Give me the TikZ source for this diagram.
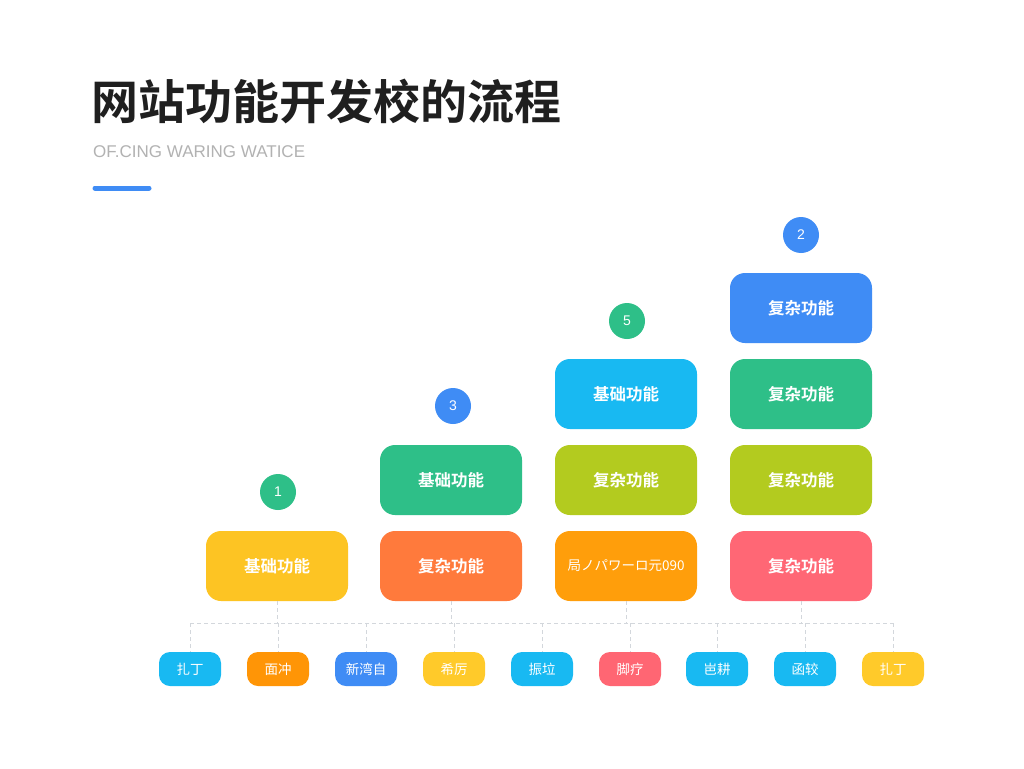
\documentclass[tikz,border=0pt]{standalone}
\usepackage{fontspec}
\setmainfont{Liberation Sans}
\newfontfamily\cjk{Noto Sans CJK SC}[BoldFont={* Bold}]
\usetikzlibrary{positioning}
\definecolor{cyellow}{HTML}{FDC423}
\definecolor{corange}{HTML}{FF7A3C}
\definecolor{cgreen}{HTML}{2EBF88}
\definecolor{ccyan}{HTML}{18B9F2}
\definecolor{clime}{HTML}{B3CB1F}
\definecolor{corange2}{HTML}{FF9E0B}
\definecolor{cblue}{HTML}{3F8CF5}
\definecolor{cred}{HTML}{FF6775}
\definecolor{torange}{HTML}{FF9506}
\definecolor{tyellow}{HTML}{FFCA2A}
\definecolor{tred}{HTML}{FF6673}
\definecolor{lineg}{HTML}{D3D7DC}
\tikzset{
  fbox/.style={shape=rectangle, rounded corners=15pt, minimum width=142pt, minimum height=70pt,
    inner sep=0pt, text=white, font=\cjk\bfseries\fontsize{16.5}{16.5}\selectfont},
  numdot/.style={circle, minimum size=36pt, inner sep=0pt, text=white,
    font=\fontsize{14}{14}\selectfont},
  tagbox/.style={shape=rectangle, rounded corners=11pt, minimum width=62pt, minimum height=34pt,
    inner sep=0pt, text=white, font=\cjk\fontsize{13.5}{13.5}\selectfont},
  dashline/.style={draw=lineg, dash pattern=on 4pt off 3pt, line width=0.8pt}
}
\begin{document}
\begin{tikzpicture}[x=1pt,y=-1pt]
\useasboundingbox[fill=white] (0,0) rectangle (1024,768);
% title
\node[anchor=west, inner sep=0pt, text=black!88, font=\cjk\bfseries\fontsize{47}{47}\selectfont] (title) at (91,101) {网站功能开发校的流程};
\node[anchor=west, inner sep=0pt, text=black!30, font=\fontsize{17}{17}\selectfont] (sub) at (93,152) {OF.CING WARING WATICE};
\draw[cblue, line width=5pt, line cap=round] (95,188) -- (149,188);

% dashed connector coordinates
\coordinate (hl) at (190,623);
\coordinate (hr) at (894,623);
\draw[dashline] (hl) -- (hr);

% boxes
\node[fbox, fill=cyellow] (b11) at (277,566) {基础功能};
\node[fbox, fill=corange] (b21) at (451,566) {复杂功能};
\node[fbox, fill=cgreen] (b22) at (451,480) {基础功能};
\node[fbox, fill=corange2, font=\cjk\fontsize{13.5}{13.5}\selectfont] (b31) at (626,566) {局ノパワーロ元090};
\node[fbox, fill=clime] (b32) at (626,480) {复杂功能};
\node[fbox, fill=ccyan] (b33) at (626,394) {基础功能};
\node[fbox, fill=cred] (b41) at (801,566) {复杂功能};
\node[fbox, fill=clime] (b42) at (801,480) {复杂功能};
\node[fbox, fill=cgreen] (b43) at (801,394) {复杂功能};
\node[fbox, fill=cblue] (b44) at (801,308) {复杂功能};

% numbers
\node[numdot, fill=cgreen] (n1) at (278,492) {1};
\node[numdot, fill=cblue] (n2) at (453,406) {3};
\node[numdot, fill=cgreen] (n3) at (627,321) {5};
\node[numdot, fill=cblue] (n4) at (801,235) {2};

% tags
\node[tagbox, fill=ccyan] (t1) at (190,669) {扎丁};
\node[tagbox, fill=torange] (t2) at (278,669) {面冲};
\node[tagbox, fill=cblue] (t3) at (366,669) {新湾自};
\node[tagbox, fill=tyellow] (t4) at (454,669) {希厉};
\node[tagbox, fill=ccyan] (t5) at (542,669) {振垃};
\node[tagbox, fill=tred] (t6) at (630,669) {脚疗};
\node[tagbox, fill=ccyan] (t7) at (717,669) {岜耕};
\node[tagbox, fill=ccyan] (t8) at (805,669) {函较};
\node[tagbox, fill=tyellow] (t9) at (893,669) {扎丁};

% vertical dashes from boxes
\foreach \b in {b11,b21,b31,b41}{
  \draw[dashline] (\b.south) -- (\b.south |- hl);
}
\foreach \t in {t1,t2,t3,t4,t5,t6,t7,t8,t9}{
  \draw[dashline] (\t.north |- hl) -- (\t.north);
}
\end{tikzpicture}
\end{document}
